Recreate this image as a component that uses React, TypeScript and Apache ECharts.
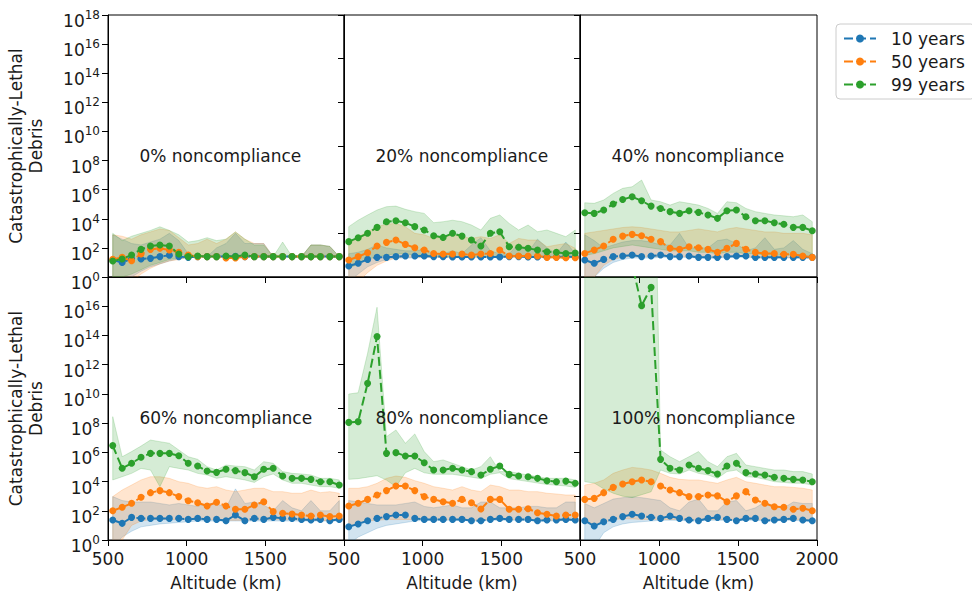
import React, { useEffect, useRef } from 'react';
import * as echarts from 'echarts';

// Altitude bin centres (km)
const altitudes = [530, 590, 650, 710, 770, 830, 890, 950, 1010, 1070, 1130, 1190, 1250, 1310, 1370, 1430, 1490, 1550, 1610, 1670, 1730, 1790, 1850, 1910, 1970];

const seriesNames = ['10 years', '50 years', '99 years'];
const panelTitles = ['0% noncompliance', '20% noncompliance', '40% noncompliance', '60% noncompliance', '80% noncompliance', '100% noncompliance'];

// All values are log10(debris count)
// ---- 0% ----
const p0_10_med = [1.17, 1.0, 1.26, 1.24, 1.28, 1.4, 1.49, 1.4, 1.35, 1.4, 1.4, 1.4, 1.4, 1.42, 1.4, 1.4, 1.4, 1.4, 1.4, 1.4, 1.4, 1.4, 1.4, 1.4, 1.4];
const p0_10_lo = [-0.5, -0.4, 0.0, 0.4, 0.7, 0.9, 1.1, 1.25, 1.3, 1.4, 1.4, 1.4, 1.4, 1.4, 1.4, 1.4, 1.4, 1.4, 1.4, 1.4, 1.4, 1.4, 1.4, 1.4, 1.4];
const p0_10_hi = [2.9, 2.6, 2.3, 2.2, 2.4, 2.6, 3.0, 2.5, 1.6, 1.4, 1.4, 2.0, 2.3, 3.0, 2.3, 2.3, 2.3, 1.4, 1.4, 1.4, 1.4, 2.2, 2.2, 2.1, 1.4];
const p0_50_med = [1.21, 1.35, 1.12, 1.58, 1.9, 1.97, 1.85, 1.69, 1.51, 1.4, 1.4, 1.4, 1.3, 1.3, 1.4, 1.4, 1.4, 1.4, 1.4, 1.4, 1.4, 1.4, 1.4, 1.4, 1.4];
const p0_50_lo = [-0.5, -0.5, -0.3, 0.2, 0.6, 0.9, 1.1, 1.2, 1.35, 1.4, 1.4, 1.4, 1.3, 1.3, 1.4, 1.4, 1.4, 1.4, 1.4, 1.4, 1.4, 1.4, 1.4, 1.4, 1.4];
const p0_50_hi = [2.9, 2.8, 2.6, 2.9, 3.1, 3.3, 3.2, 2.7, 2.2, 2.3, 2.6, 2.3, 2.6, 3.1, 2.6, 2.3, 2.3, 1.4, 1.4, 1.4, 1.4, 2.2, 2.2, 2.1, 1.4];
const p0_99_med = [1.1, 1.24, 1.51, 1.9, 2.13, 2.2, 2.13, 1.58, 1.4, 1.44, 1.4, 1.4, 1.44, 1.4, 1.51, 1.4, 1.4, 1.4, 1.4, 1.4, 1.4, 1.4, 1.4, 1.4, 1.4];
const p0_99_lo = [0.0, 0.0, 0.2, 0.5, 0.8, 1.0, 1.2, 1.3, 1.4, 1.4, 1.4, 1.4, 1.4, 1.4, 1.4, 1.4, 1.4, 1.4, 1.4, 1.4, 1.4, 1.4, 1.4, 1.4, 1.4];
const p0_99_hi = [3.0, 2.5, 2.8, 3.0, 3.2, 3.45, 3.2, 2.9, 2.4, 2.5, 2.7, 2.5, 2.6, 3.1, 2.6, 2.2, 2.2, 1.4, 2.4, 1.4, 1.4, 2.2, 2.2, 2.1, 1.4];
// ---- 20% ----
const p1_10_med = [0.76, 0.94, 1.21, 1.35, 1.35, 1.4, 1.44, 1.44, 1.44, 1.4, 1.4, 1.38, 1.38, 1.38, 1.38, 1.38, 1.38, 1.4, 1.4, 1.38, 1.38, 1.38, 1.38, 1.4, 1.38];
const p1_10_lo = [-0.3, 0.2, 0.7, 1.0, 1.2, 1.3, 1.3, 1.3, 1.35, 1.35, 1.35, 1.35, 1.35, 1.35, 1.35, 1.35, 1.35, 1.35, 1.35, 1.35, 1.35, 1.35, 1.35, 1.35, 1.35];
const p1_10_hi = [1.6, 1.7, 1.9, 2.2, 2.0, 1.9, 1.8, 1.8, 1.9, 1.6, 1.6, 1.8, 1.6, 2.2, 2.7, 1.8, 1.6, 1.6, 2.3, 1.7, 2.6, 2.0, 1.6, 2.4, 1.6];
const p1_50_med = [1.17, 1.4, 1.67, 2.13, 2.38, 2.54, 2.24, 2.01, 1.85, 1.62, 1.58, 1.58, 1.58, 1.51, 1.58, 1.62, 1.85, 1.44, 1.44, 1.44, 1.44, 1.35, 1.35, 1.33, 1.33];
const p1_50_lo = [-0.5, -0.3, 0.3, 0.8, 1.1, 1.3, 1.35, 1.35, 1.35, 1.35, 1.35, 1.35, 1.35, 1.35, 1.35, 1.35, 1.35, 1.35, 1.35, 1.35, 1.35, 1.3, 1.3, 1.3, 1.3];
const p1_50_hi = [2.3, 2.77, 3.1, 3.45, 3.63, 3.68, 3.45, 3.0, 2.9, 2.65, 2.77, 2.9, 2.77, 2.65, 2.77, 2.65, 2.9, 2.3, 2.65, 2.54, 2.54, 2.08, 2.2, 2.3, 1.97];
const p1_99_med = [2.43, 2.7, 3.0, 3.41, 3.8, 3.87, 3.73, 3.46, 3.23, 2.84, 2.72, 3.0, 2.81, 2.54, 2.13, 3.0, 3.11, 2.08, 2.04, 1.97, 1.85, 1.74, 1.7, 1.62, 1.65];
const p1_99_lo = [0.6, 0.9, 1.2, 1.4, 1.5, 1.6, 1.6, 1.5, 1.5, 1.45, 1.4, 1.4, 1.4, 1.4, 1.4, 1.4, 1.4, 1.4, 1.4, 1.4, 1.4, 1.4, 1.4, 1.4, 1.4];
const p1_99_hi = [3.46, 3.9, 4.26, 4.6, 4.83, 4.87, 4.65, 4.49, 4.37, 3.73, 3.8, 3.9, 3.8, 3.57, 3.23, 4.03, 4.26, 3.68, 3.23, 3.57, 3.11, 3.23, 3.0, 2.77, 3.23];
// ---- 40% ----
const p2_10_med = [1.17, 0.94, 1.21, 1.4, 1.44, 1.51, 1.4, 1.44, 1.51, 1.4, 1.4, 1.44, 1.35, 1.35, 1.35, 1.4, 1.44, 1.44, 1.35, 1.35, 1.35, 1.35, 1.35, 1.35, 1.35];
const p2_10_lo = [-0.5, 0.0, 0.6, 1.0, 1.2, 1.3, 1.3, 1.3, 1.35, 1.35, 1.35, 1.35, 1.3, 1.3, 1.3, 1.35, 1.35, 1.35, 1.3, 1.3, 1.3, 1.3, 1.3, 1.3, 1.3];
const p2_10_hi = [2.9, 2.5, 2.0, 2.2, 2.4, 2.5, 2.5, 2.4, 2.2, 2.2, 3.0, 2.0, 2.0, 2.0, 2.5, 2.6, 2.3, 1.8, 2.0, 2.7, 1.9, 2.0, 2.5, 1.9, 1.6];
const p2_50_med = [1.62, 1.85, 2.13, 2.59, 2.81, 2.93, 2.84, 2.59, 2.43, 1.97, 1.9, 2.08, 2.01, 1.9, 1.69, 1.97, 2.31, 1.9, 1.69, 1.62, 1.62, 1.56, 1.56, 1.44, 1.35];
const p2_50_lo = [-0.5, 0.0, 0.8, 1.2, 1.35, 1.4, 1.4, 1.4, 1.4, 1.4, 1.4, 1.4, 1.35, 1.35, 1.35, 1.4, 1.4, 1.4, 1.35, 1.35, 1.35, 1.35, 1.35, 1.35, 1.3];
const p2_50_hi = [3.0, 3.1, 3.2, 3.3, 3.4, 3.45, 3.4, 3.3, 3.2, 3.1, 3.1, 3.2, 3.3, 3.2, 3.1, 3.3, 3.4, 3.3, 3.2, 3.1, 3.1, 3.0, 3.0, 3.0, 2.9];
const p2_99_med = [4.42, 4.37, 4.6, 5.01, 5.33, 5.51, 5.24, 4.87, 4.71, 4.49, 4.37, 4.55, 4.44, 4.26, 4.03, 4.55, 4.6, 4.14, 3.87, 3.87, 3.73, 3.62, 3.41, 3.41, 3.18];
const p2_99_lo = [1.5, 1.6, 1.8, 2.0, 2.1, 2.2, 2.1, 2.0, 1.9, 1.8, 1.8, 1.8, 1.7, 1.7, 1.6, 1.7, 1.7, 1.6, 1.6, 1.5, 1.5, 1.5, 1.5, 1.5, 1.4];
const p2_99_hi = [5.1, 5.06, 5.29, 5.74, 6.09, 6.2, 6.66, 5.29, 5.17, 4.94, 5.17, 5.06, 4.94, 4.71, 4.37, 5.17, 5.1, 4.71, 4.49, 4.37, 4.26, 4.2, 4.14, 4.26, 3.8];
// ---- 60% ----
const p3_10_med = [1.37, 1.14, 1.55, 1.48, 1.48, 1.48, 1.48, 1.48, 1.41, 1.48, 1.41, 1.41, 1.32, 1.71, 1.32, 1.48, 1.41, 1.55, 1.48, 1.48, 1.41, 1.37, 1.41, 1.32, 1.41];
const p3_10_lo = [-0.5, 0.2, 0.6, 0.9, 1.0, 1.1, 1.15, 1.2, 1.25, 1.3, 1.3, 1.3, 1.3, 1.3, 1.3, 1.3, 1.3, 1.3, 1.3, 1.3, 1.3, 1.3, 1.3, 1.3, 1.3];
const p3_10_hi = [2.97, 2.7, 2.6, 2.6, 2.6, 2.5, 2.4, 2.5, 2.4, 2.3, 2.5, 2.5, 2.2, 3.5, 2.5, 2.6, 2.4, 2.0, 2.7, 2.2, 2.0, 2.7, 2.0, 2.0, 2.7];
const p3_50_med = [2.0, 2.24, 2.51, 2.92, 3.24, 3.38, 3.24, 2.97, 2.69, 2.55, 2.33, 2.58, 2.33, 2.1, 2.1, 2.4, 2.62, 1.94, 1.83, 1.78, 1.71, 1.64, 1.71, 1.6, 1.64];
const p3_50_lo = [-0.5, 0.0, 1.0, 1.3, 1.4, 1.4, 1.4, 1.4, 1.4, 1.4, 1.4, 1.4, 1.35, 1.35, 1.35, 1.4, 1.4, 1.4, 1.4, 1.4, 1.35, 1.35, 1.35, 1.3, 1.35];
const p3_50_hi = [2.97, 3.42, 3.76, 4.11, 4.33, 4.33, 4.22, 3.99, 3.88, 3.65, 3.54, 3.65, 3.42, 3.31, 3.42, 3.54, 3.54, 3.31, 3.31, 3.2, 3.2, 3.42, 3.24, 3.31, 3.2];
const p3_99_med = [6.46, 4.91, 5.25, 5.66, 5.93, 5.93, 5.93, 5.77, 5.25, 5.06, 4.72, 4.63, 4.84, 4.75, 4.61, 4.33, 4.84, 4.91, 4.38, 4.22, 4.22, 4.15, 3.99, 3.99, 3.76];
const p3_99_lo = [4.11, 4.33, 4.56, 4.9, 4.79, 3.65, 5.02, 4.9, 4.79, 4.56, 4.45, 4.22, 4.33, 4.22, 4.11, 3.94, 4.33, 4.52, 4.11, 3.88, 3.88, 3.76, 3.65, 3.65, 3.54];
const p3_99_hi = [8.44, 5.7, 6.05, 6.43, 6.84, 6.73, 6.62, 6.16, 5.7, 5.52, 5.02, 4.79, 5.13, 5.06, 5.02, 4.79, 5.36, 5.25, 4.68, 4.56, 4.52, 4.45, 4.22, 4.22, 4.11];
// ---- 80% ----
const p4_10_med = [0.91, 1.1, 1.32, 1.48, 1.6, 1.71, 1.71, 1.48, 1.41, 1.41, 1.41, 1.41, 1.41, 1.32, 1.32, 1.41, 1.48, 1.41, 1.41, 1.41, 1.32, 1.37, 1.37, 1.41, 1.37];
const p4_10_lo = [-0.3, 0.2, 0.5, 0.8, 1.0, 1.1, 1.2, 1.3, 1.35, 1.35, 1.35, 1.35, 1.35, 1.3, 1.3, 1.35, 1.35, 1.35, 1.35, 1.35, 1.3, 1.3, 1.3, 1.35, 1.3];
const p4_10_hi = [2.7, 2.6, 2.5, 2.4, 2.4, 2.4, 2.5, 2.6, 2.3, 2.2, 2.3, 2.4, 2.2, 2.2, 2.6, 2.6, 2.2, 2.2, 2.2, 2.3, 2.3, 2.2, 2.2, 2.6, 2.6];
const p4_50_med = [2.33, 2.51, 2.78, 3.08, 3.38, 3.7, 3.7, 3.38, 2.97, 2.78, 2.62, 2.51, 2.78, 2.55, 2.12, 2.78, 2.78, 2.1, 2.1, 2.14, 1.87, 1.76, 1.64, 1.71, 1.71];
const p4_50_lo = [0.9, 1.1, 1.3, 1.35, 1.4, 1.4, 1.4, 1.4, 1.4, 1.4, 1.4, 1.4, 1.4, 1.35, 1.35, 1.4, 1.4, 1.4, 1.4, 1.4, 1.35, 1.35, 1.35, 1.35, 1.35];
const p4_50_hi = [3.54, 3.54, 3.65, 3.88, 4.22, 4.38, 4.29, 4.06, 3.88, 3.65, 3.54, 3.42, 3.65, 3.42, 3.31, 3.76, 3.65, 3.42, 3.42, 3.31, 3.31, 3.2, 3.15, 3.08, 3.08];
const p4_99_med = [8.05, 8.1, 10.72, 13.92, 5.93, 5.98, 5.75, 5.75, 5.29, 4.79, 4.79, 4.91, 4.79, 4.68, 4.45, 4.84, 5.07, 4.49, 4.38, 4.33, 4.22, 4.06, 3.99, 4.03, 3.88];
const p4_99_lo = [4.15, 4.2, 4.3, 4.4, 4.1, 3.65, 4.6, 4.9, 4.6, 4.5, 4.5, 4.5, 4.4, 4.3, 4.2, 4.5, 4.6, 4.2, 4.1, 4.0, 3.9, 3.8, 3.75, 3.7, 3.6];
const p4_99_hi = [9.99, 10.08, 12.78, 15.93, 7.07, 7.53, 6.62, 7.26, 6.05, 5.36, 5.48, 5.25, 5.02, 4.79, 5.02, 5.7, 4.68, 4.68, 4.56, 4.45, 4.33, 4.22, 4.22, 4.22, 4.11];
// ---- 100% ----
const p5_10_med = [1.32, 0.96, 1.25, 1.41, 1.6, 1.76, 1.64, 1.55, 1.48, 1.64, 1.48, 1.37, 1.32, 1.48, 1.55, 1.41, 1.32, 1.48, 1.48, 1.32, 1.37, 1.41, 1.48, 1.37, 1.32];
const p5_10_lo = [-0.5, -0.5, 0.5, 0.9, 1.1, 1.2, 1.25, 1.3, 1.35, 1.35, 1.35, 1.3, 1.3, 1.35, 1.35, 1.35, 1.3, 1.35, 1.35, 1.3, 1.3, 1.35, 1.35, 1.3, 1.3];
const p5_10_hi = [2.5, 2.2, 2.5, 2.8, 2.9, 2.95, 2.9, 2.8, 2.7, 2.2, 2.0, 2.6, 2.8, 2.0, 2.0, 2.6, 2.7, 2.0, 2.2, 2.6, 2.3, 2.2, 2.6, 2.5, 2.5];
const p5_50_med = [2.78, 2.85, 3.24, 3.6, 3.83, 3.99, 4.11, 3.99, 3.7, 3.42, 3.24, 2.97, 2.97, 3.08, 3.02, 2.62, 3.02, 3.31, 2.74, 2.51, 2.28, 2.24, 2.1, 2.17, 2.0];
const p5_50_lo = [1.4, 1.0, 1.2, 1.4, 1.45, 1.45, 1.4, 1.4, 1.4, 1.4, 1.4, 1.4, 1.4, 1.4, 1.4, 1.4, 1.4, 1.4, 1.4, 1.4, 1.4, 1.4, 1.4, 1.4, 1.4];
const p5_50_hi = [3.76, 3.88, 4.11, 4.56, 4.79, 4.97, 4.9, 4.79, 4.56, 4.29, 4.15, 4.11, 4.11, 3.99, 3.88, 4.11, 4.29, 3.99, 3.88, 3.76, 3.65, 3.65, 3.6, 3.54, 3.42];
const p5_99_med = [19.5, 19.8, 20.0, 20.2, 20.0, 18.85, 16.04, 17.29, 5.52, 4.91, 4.79, 5.13, 4.91, 4.75, 4.52, 5.07, 5.25, 4.61, 4.52, 4.45, 4.29, 4.22, 4.15, 4.11, 3.99];
const p5_99_lo = [3.99, 3.9, 3.5, 3.2, 3.0, 2.9, 3.1, 3.3, 4.79, 4.56, 4.52, 4.79, 4.56, 4.45, 4.22, 4.68, 4.79, 4.33, 4.29, 4.15, 3.99, 3.94, 3.88, 3.88, 3.76];
const p5_99_hi = [40, 40, 40, 40, 40, 40, 40, 40, 6.16, 5.7, 5.36, 5.7, 6.05, 5.36, 5.02, 5.7, 5.93, 5.13, 5.02, 4.9, 4.79, 4.79, 4.68, 4.68, 4.52];

const panelMed = [
  [p0_10_med, p0_50_med, p0_99_med],
  [p1_10_med, p1_50_med, p1_99_med],
  [p2_10_med, p2_50_med, p2_99_med],
  [p3_10_med, p3_50_med, p3_99_med],
  [p4_10_med, p4_50_med, p4_99_med],
  [p5_10_med, p5_50_med, p5_99_med],
];
const panelLo = [
  [p0_10_lo, p0_50_lo, p0_99_lo],
  [p1_10_lo, p1_50_lo, p1_99_lo],
  [p2_10_lo, p2_50_lo, p2_99_lo],
  [p3_10_lo, p3_50_lo, p3_99_lo],
  [p4_10_lo, p4_50_lo, p4_99_lo],
  [p5_10_lo, p5_50_lo, p5_99_lo],
];
const panelHi = [
  [p0_10_hi, p0_50_hi, p0_99_hi],
  [p1_10_hi, p1_50_hi, p1_99_hi],
  [p2_10_hi, p2_50_hi, p2_99_hi],
  [p3_10_hi, p3_50_hi, p3_99_hi],
  [p4_10_hi, p4_50_hi, p4_99_hi],
  [p5_10_hi, p5_50_hi, p5_99_hi],
];

const COLORS = ['#1f77b4', '#ff7f0e', '#2ca02c'];
const BAND = ['rgba(31,119,180,0.2)', 'rgba(255,127,14,0.2)', 'rgba(44,160,44,0.2)'];
const FONT = 'DejaVu Sans';
const TXT = '#1a1a1a';
const FS = 17;

const colLeft = [108, 344, 580];
const colWidth = [236, 236, 237];
const rowTop = [15, 277];
const rowHeight = [262, 263];

function buildOption() {
  const grids: any[] = [];
  const xAxes: any[] = [];
  const yAxes: any[] = [];
  const bandSeries: any[] = [];
  const lineSeries: any[] = [];
  const graphics: any[] = [];

  for (let g = 0; g < 6; g++) {
    const row = Math.floor(g / 3);
    const col = g % 3;
    grids.push({
      left: colLeft[col], top: rowTop[row], width: colWidth[col], height: rowHeight[row],
      show: true, borderColor: '#000', borderWidth: 1, backgroundColor: 'transparent',
    });
    const isBottom = row === 1;
    xAxes.push({
      type: 'value', gridIndex: g, min: 500, max: 2000,
      interval: !isBottom && col === 2 ? 375 : 500,
      splitLine: { show: false },
      axisLine: { show: true, lineStyle: { color: '#000', width: 1 } },
      axisTick: { show: true, length: 6, lineStyle: { color: '#000', width: 1 } },
      axisLabel: {
        show: isBottom, margin: 10, fontSize: FS, fontFamily: FONT, color: TXT,
        formatter: (v: number) => (v === 2000 && col < 2 ? '' : String(v)),
      },
      name: isBottom ? 'Altitude (km)' : '',
      nameLocation: 'middle', nameGap: 34,
      nameTextStyle: { fontSize: FS, fontFamily: FONT, color: TXT },
    });
    yAxes.push({
      type: 'value', gridIndex: g, min: 0, max: 18,
      interval: col === 0 ? 2 : 3,
      splitLine: { show: false },
      axisLine: { show: true, lineStyle: { color: '#000', width: 1 } },
      axisTick: { show: true, length: 6, lineStyle: { color: '#000', width: 1 } },
      axisLabel: {
        show: col === 0, margin: 8, padding: [12, 0, 0, 0],
        formatter: (v: number) => (isBottom && v === 18 ? '' : `{b|10}{s|${v}}`),
        rich: {
          b: { fontSize: FS, lineHeight: 24, fontFamily: FONT, color: TXT },
          s: { fontSize: 12, lineHeight: 12, verticalAlign: 'top', fontFamily: FONT, color: TXT },
        },
      },
      name: col === 0 ? 'Catastrophically-Lethal\nDebris' : '',
      nameLocation: 'middle', nameGap: 62, nameRotate: 90,
      nameTextStyle: { fontSize: FS, lineHeight: 20, fontFamily: FONT, color: TXT },
    });

    for (let s = 0; s < 3; s++) {
      const lo = panelLo[g][s];
      const hi = panelHi[g][s];
      const med = panelMed[g][s];
      bandSeries.push({
        type: 'custom', name: `${seriesNames[s]} range`, coordinateSystem: 'cartesian2d',
        xAxisIndex: g, yAxisIndex: g, clip: true, silent: true, z: 1,
        data: altitudes.map((a, i) => [a, lo[i], hi[i]]),
        encode: { x: 0, y: [1, 2] },
        renderItem: (params: any, api: any) => {
          if (params.dataIndex !== 0) return null;
          const pts: number[][] = [];
          for (let i = 0; i < altitudes.length; i++) pts.push(api.coord([altitudes[i], hi[i]]));
          for (let i = altitudes.length - 1; i >= 0; i--) pts.push(api.coord([altitudes[i], lo[i]]));
          return {
            type: 'polygon',
            shape: { points: pts },
            style: { fill: BAND[s], stroke: BAND[s], lineWidth: 1 },
          };
        },
      });
      lineSeries.push({
        type: 'line', name: seriesNames[s], xAxisIndex: g, yAxisIndex: g,
        data: altitudes.map((a, i) => [a, med[i]]),
        symbol: 'circle', symbolSize: 7,
        itemStyle: { color: COLORS[s] },
        lineStyle: { color: COLORS[s], width: 2, type: [9, 4] },
        z: 3,
      });
    }

    graphics.push({
      type: 'text',
      x: colLeft[col] + ((700 - 500) / 1500) * colWidth[col],
      y: row === 0 ? 156 : 418,
      z: 10,
      style: {
        text: panelTitles[g], fontSize: FS, fontFamily: FONT, fill: TXT,
        align: 'left', verticalAlign: 'middle', textAlign: 'left', textVerticalAlign: 'middle',
      },
    });
  }

  return {
    animation: false,
    backgroundColor: '#fff',
    grid: grids,
    xAxis: xAxes,
    yAxis: yAxes,
    series: [...bandSeries, ...lineSeries],
    graphic: graphics,
    legend: {
      data: seriesNames,
      orient: 'vertical',
      left: 836, top: 24,
      itemWidth: 32, itemHeight: 10, itemGap: 6,
      padding: [6, 10, 6, 7],
      borderColor: '#cccccc', borderWidth: 1, borderRadius: 4,
      backgroundColor: 'rgba(255,255,255,0.8)',
      textStyle: { fontSize: FS, fontFamily: FONT, color: TXT, padding: [0, 0, 0, 10] },
    },
  };
}

export default function App() {
  const ref = useRef<HTMLDivElement>(null);
  useEffect(() => {
    document.body.style.margin = '0';
    const chart = echarts.init(ref.current as HTMLDivElement, undefined, { renderer: 'svg' });
    chart.setOption(buildOption() as any);
    return () => chart.dispose();
  }, []);
  return <div ref={ref} style={{ width: 972, height: 599 }} />;
}
